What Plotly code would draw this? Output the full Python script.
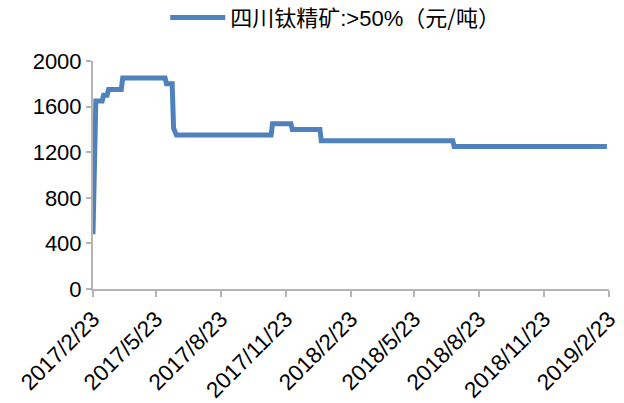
import plotly.graph_objects as go

# Sichuan titanium concentrate (>50%) price, yuan per tonne
dates = [
    "2017-02-23", "2017-02-27", "2017-03-08", "2017-03-10", "2017-03-15",
    "2017-03-17", "2017-04-04", "2017-04-06", "2017-06-05", "2017-06-07",
    "2017-06-15", "2017-06-17", "2017-06-21", "2017-11-02", "2017-11-04",
    "2017-11-30", "2017-12-02", "2018-01-10", "2018-01-12", "2018-07-17",
    "2018-07-19", "2019-02-20",
]
prices = [
    480, 1650, 1650, 1700, 1700,
    1750, 1750, 1850, 1850, 1800,
    1800, 1410, 1350, 1350, 1450,
    1450, 1400, 1400, 1300, 1300,
    1250, 1250,
]
CJK = "font-family:'Noto Sans CJK SC'"
series_name = (
    f"<span style=\"{CJK}\">四川钛精矿</span>:>50%"
    f"<span style=\"{CJK}\">（元/吨）</span>"
)

tick_dates = [
    "2017-02-23", "2017-05-23", "2017-08-23", "2017-11-23", "2018-02-23",
    "2018-05-23", "2018-08-23", "2018-11-23", "2019-02-23",
]
tick_labels = [
    "2017/2/23", "2017/5/23", "2017/8/23", "2017/11/23", "2018/2/23",
    "2018/5/23", "2018/8/23", "2018/11/23", "2019/2/23",
]

FONT = "Liberation Sans, Arial, Noto Sans CJK SC, sans-serif"
AXIS_GREY = "#b4b4b4"

fig = go.Figure(
    go.Scatter(
        x=dates,
        y=prices,
        mode="lines",
        name=series_name,
        line=dict(color="#4f81bd", width=5),
    )
)

fig.update_layout(
    width=624,
    height=403,
    margin=dict(l=93, r=15, t=61, b=114, autoexpand=False),
    paper_bgcolor="white",
    plot_bgcolor="white",
    font=dict(family=FONT, size=22, color="black"),
    showlegend=True,
    legend=dict(
        orientation="h",
        x=0.14,
        xanchor="left",
        y=1.19,
        yanchor="middle",
        font=dict(family=FONT, size=22),
        itemwidth=55,
        bgcolor="rgba(0,0,0,0)",
    ),
)

fig.update_xaxes(
    type="date",
    range=["2017-02-23", "2019-02-23"],
    tickmode="array",
    tickvals=tick_dates,
    ticktext=tick_labels,
    tickangle=-45,
    automargin=False,
    showgrid=False,
    zeroline=False,
    showline=True,
    linecolor=AXIS_GREY,
    linewidth=2,
    ticks="outside",
    ticklen=6,
    tickwidth=2,
    tickcolor=AXIS_GREY,
    tickfont=dict(size=22.5),
)

fig.update_yaxes(
    range=[0, 2000],
    tickmode="linear",
    tick0=0,
    dtick=400,
    automargin=False,
    showgrid=False,
    zeroline=False,
    showline=True,
    linecolor=AXIS_GREY,
    linewidth=2,
    ticks="outside",
    ticklen=5,
    tickwidth=2,
    tickcolor=AXIS_GREY,
    tickfont=dict(size=22),
)

fig.write_html("out.html")
